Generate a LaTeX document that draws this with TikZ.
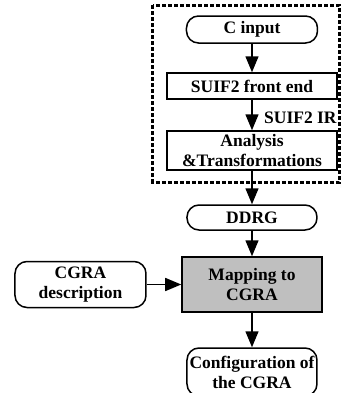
\documentclass[tikz,border=0pt]{standalone}
\usepackage{fontspec}
\setmainfont{Liberation Serif}
\usetikzlibrary{arrows.meta}
\tikzset{%
	box/.style = { draw, line width=0.75pt, align=center, inner sep=1pt },
	pill/.style = { box, rounded corners=6pt },
	grey/.style = { box, fill=black!25 },
	flow/.style = { line width=0.75pt, -{Triangle[length=8pt,width=6.5pt]} },
	frame/.style = { line width=1.5pt, dash pattern=on 2pt off 1pt }
}
\begin{document}
\begin{tikzpicture}[x=0.5pt, y=-0.5pt, every node/.style={font=\fontsize{8.75}{10}\selectfont\bfseries}]
	\useasboundingbox (0,0) rectangle (341,393);
	% front end
	\draw[frame] (153,5) rectangle (339.5,182);
	\node[pill, minimum width=65.5pt, minimum height=13.5pt] (cin) at (252,29.5) {C input};
	\node[box, minimum width=85pt, minimum height=13pt] (fe) at (252,86) {SUIF2 front end};
	\node[box, minimum width=85pt, minimum height=19.5pt] (ana) at (252,150.5) {Analysis\\\&Transformations};
	\node[anchor=east, inner sep=0pt] (ir) at (337,117.5) {SUIF2 IR};
	% mapping
	\node[pill, minimum width=65pt, minimum height=12.5pt] (ddrg) at (252,217.5) {DDRG};
	\node[grey, minimum width=70pt, minimum height=27.5pt] (map) at (252,284.5) {Mapping to\\CGRA};
	\node[pill, minimum width=65.5pt, minimum height=23pt] (desc) at (80.5,284.5) {CGRA\\description};
	\node[pill, minimum width=65pt, minimum height=24pt] (conf) at (252,372) {Configuration of\\the CGRA};
	% arrows
	\draw[flow] (cin) -- (fe);
	\draw[flow] (fe) -- (ana);
	\draw[flow] (ana) -- (ddrg);
	\draw[flow] (ddrg) -- (map);
	\draw[flow] (desc) -- (map);
	\draw[flow] (map) -- (conf);
\end{tikzpicture}
\end{document}
